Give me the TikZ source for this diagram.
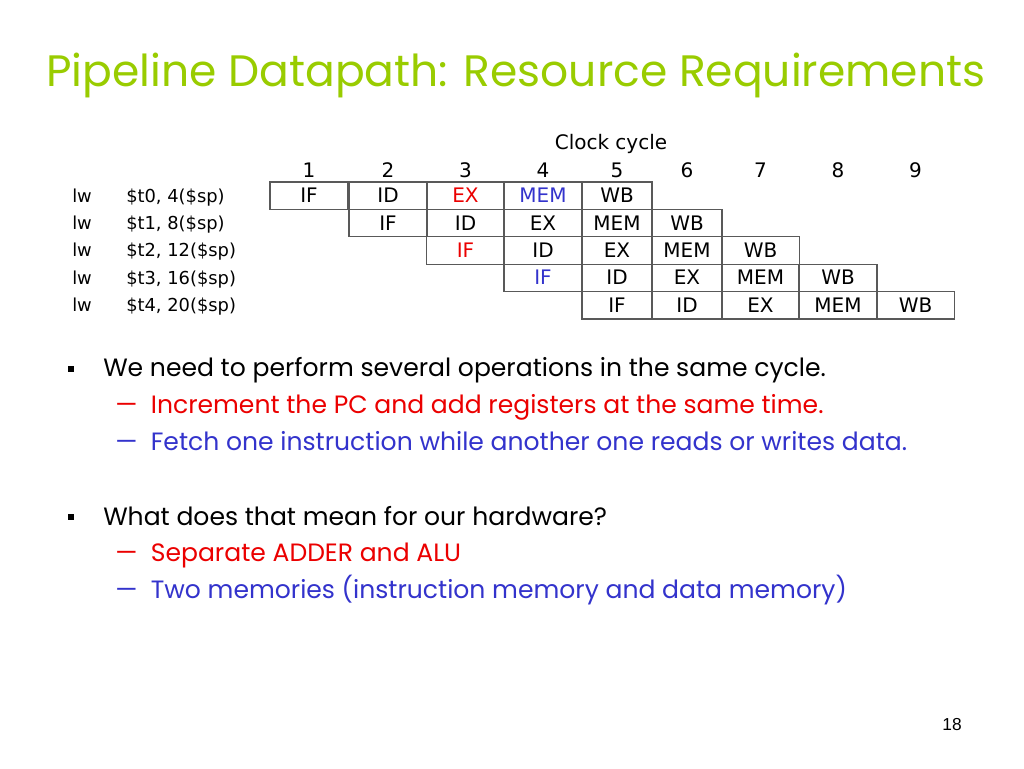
\documentclass[tikz,border=0pt]{standalone}
\usepackage{fontspec}
\setmainfont{Poppins}
\newfontfamily\tablefont{DejaVu Sans}
\newfontfamily\pagefont{Liberation Sans}
\usepackage[dvipsnames]{xcolor}
\definecolor{titlegreen}{RGB}{153,204,0}
\definecolor{hotred}{RGB}{235,0,0}
\definecolor{deepblue}{RGB}{51,51,204}

\begin{document}
\begin{tikzpicture}[x=0.75pt,y=-0.75pt,
    cell/.style={draw=black!65,line width=0.8pt,inner sep=0pt,minimum width=58.5pt,minimum height=20.55pt,text height=10.5pt,text depth=0pt,font=\tablefont\fontsize{15}{15}\selectfont},
    short cell/.style={cell,minimum width=52.5pt},
    head node/.style={inner sep=0pt,text height=10.5pt,text depth=0pt,font=\tablefont\fontsize{15}{15}\selectfont},
    instr node/.style={anchor=west,inner sep=0pt,text height=9.5pt,text depth=0pt,font=\tablefont\fontsize{13.4}{13.4}\selectfont},
    point node/.style={anchor=base west,inner sep=0pt,font=\fontsize{18.8}{18.8}\selectfont},
    bullet node/.style={fill=black,inner sep=0pt,minimum size=4.5pt}]

    \useasboundingbox[fill=white] (0,0) rectangle (1024,768);

    % title
    \node[anchor=base west,inner sep=0pt,text=titlegreen,font=\fontsize{33}{33}\selectfont] (title) at (46,86) {Pipeline Datapath: Resource Requirements};

    % clock cycle header
    \node[head node] (clock) at (611,142.5) {Clock cycle};
    \node[head node] (cc1) at (309,170) {1};
    \node[head node] (cc2) at (388,170) {2};
    \node[head node] (cc3) at (465.5,170) {3};
    \node[head node] (cc4) at (543,170) {4};
    \node[head node] (cc5) at (617,170) {5};
    \node[head node] (cc6) at (687,170) {6};
    \node[head node] (cc7) at (760.5,170) {7};
    \node[head node] (cc8) at (838,170) {8};
    \node[head node] (cc9) at (915.5,170) {9};

    % instructions
    \node[instr node] (op1) at (72,195.7) {lw};
    \node[instr node] (op2) at (72,223.1) {lw};
    \node[instr node] (op3) at (72,250.5) {lw};
    \node[instr node] (op4) at (72,277.9) {lw};
    \node[instr node] (op5) at (72,305.3) {lw};
    \node[instr node] (arg1) at (126,195.7) {\$t0, 4(\$sp)};
    \node[instr node] (arg2) at (126,223.1) {\$t1, 8(\$sp)};
    \node[instr node] (arg3) at (126,250.5) {\$t2, 12(\$sp)};
    \node[instr node] (arg4) at (126,277.9) {\$t3, 16(\$sp)};
    \node[instr node] (arg5) at (126,305.3) {\$t4, 20(\$sp)};

    % pipeline stages
    \node[cell] (IF1) at (309,195.7) {IF};
    \node[cell] (ID1) at (388,195.7) {ID};
    \node[cell,text=hotred] (EX1) at (465.5,195.7) {EX};
    \node[cell,text=deepblue] (MEM1) at (543,195.7) {MEM};
    \node[short cell] (WB1) at (617,195.7) {WB};

    \node[cell] (IF2) at (388,223.1) {IF};
    \node[cell] (ID2) at (465.5,223.1) {ID};
    \node[cell] (EX2) at (543,223.1) {EX};
    \node[short cell] (MEM2) at (617,223.1) {MEM};
    \node[short cell] (WB2) at (687,223.1) {WB};

    \node[cell,text=hotred] (IF3) at (465.5,250.5) {IF};
    \node[cell] (ID3) at (543,250.5) {ID};
    \node[short cell] (EX3) at (617,250.5) {EX};
    \node[short cell] (MEM3) at (687,250.5) {MEM};
    \node[cell] (WB3) at (760.5,250.5) {WB};

    \node[cell,text=deepblue] (IF4) at (543,277.9) {IF};
    \node[short cell] (ID4) at (617,277.9) {ID};
    \node[short cell] (EX4) at (687,277.9) {EX};
    \node[cell] (MEM4) at (760.5,277.9) {MEM};
    \node[cell] (WB4) at (838,277.9) {WB};

    \node[short cell] (IF5) at (617,305.3) {IF};
    \node[short cell] (ID5) at (687,305.3) {ID};
    \node[cell] (EX5) at (760.5,305.3) {EX};
    \node[cell] (MEM5) at (838,305.3) {MEM};
    \node[cell] (WB5) at (915.5,305.3) {WB};

    % bullet points
    \node[bullet node] (b1) at (70.5,368.5) {};
    \node[point node] (p1) at (103,376) {We need to perform several operations in the same cycle.};
    \node[point node,text=hotred] (p1a) at (115,413) {—\ \ Increment the PC and add registers at the same time.};
    \node[point node,text=deepblue] (p1b) at (115,450) {—\ \ Fetch one instruction while another one reads or writes data.};

    \node[bullet node] (b2) at (70.5,516.5) {};
    \node[point node] (p2) at (103,525) {What does that mean for our hardware?};
    \node[point node,text=hotred] (p2a) at (115,561) {—\ \ Separate ADDER and ALU};
    \node[point node,text=deepblue] (p2b) at (115,598) {—\ \ Two memories (instruction memory and data memory)};

    % slide number
    \node[inner sep=0pt,font=\pagefont\fontsize{13}{13}\selectfont] (num) at (952,725) {18};
\end{tikzpicture}
\end{document}
